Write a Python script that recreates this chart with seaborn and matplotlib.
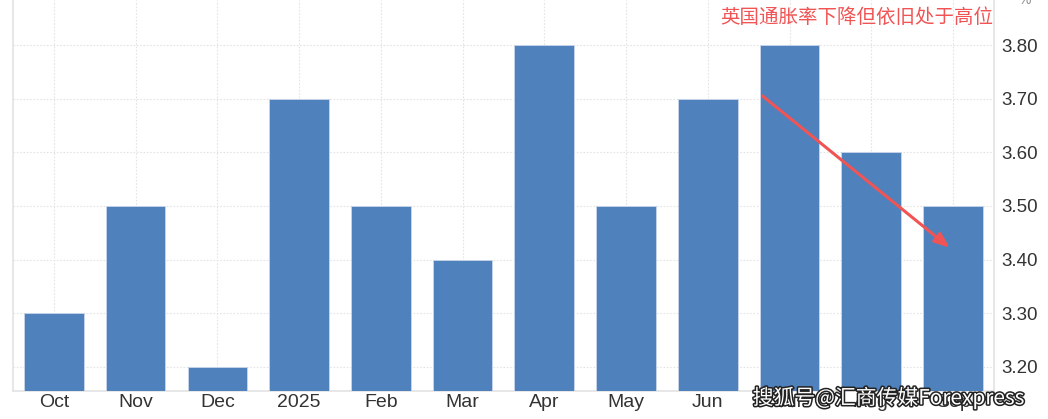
import pandas as pd
import matplotlib.pyplot as plt
import matplotlib.patheffects as pe
import seaborn as sns

# data (UK CPI, %)
months = ['Oct', 'Nov', 'Dec', '2025', 'Feb', 'Mar', 'Apr', 'May', 'Jun', 'Jul', 'Aug', 'Sep']
cpi = [3.3, 3.5, 3.2, 3.7, 3.5, 3.4, 3.8, 3.5, 3.7, 3.8, 3.6, 3.5]
yticks = [3.2, 3.3, 3.4, 3.5, 3.6, 3.7, 3.8]

df = pd.DataFrame({'month': months, 'cpi': cpi})

sns.set_style('white')
plt.rcParams['font.family'] = ['Liberation Sans', 'Noto Sans CJK SC', 'DejaVu Sans']

fig = plt.figure(figsize=(10.48, 4.19), dpi=100)
ax = fig.add_axes([0.0124, 0.0668, 0.936, 0.9332])

sns.barplot(data=df, x='month', y='cpi', order=months, color='#4f81bd',
            saturation=1, width=0.73, edgecolor='#c9d6ea', linewidth=0.6,
            ax=ax, zorder=3)

ax.set_ylim(3.155, 3.884)
ax.set_xlim(-0.5, len(months) - 0.5)
ax.set_yticks(yticks)
ax.set_yticklabels([f'{v:.2f}' for v in yticks])
ax.yaxis.tick_right()
ax.set_xlabel('')
ax.set_ylabel('')
ax.tick_params(axis='both', length=0, colors='#333333')
ax.tick_params(axis='x', labelsize=14, pad=2)
ax.tick_params(axis='y', labelsize=13.5, pad=5)

ax.grid(True, color='#e4e4e4', linestyle=(0, (1.5, 1.5)), linewidth=0.8, zorder=0)
ax.set_axisbelow(True)
for side in ['left', 'right', 'bottom']:
    ax.spines[side].set_color('#e3e3e3')
    ax.spines[side].set_linewidth(1.2)
ax.spines['top'].set_visible(False)

# percent sign above the axis labels
fig.text(0.978, 1.0, '%', ha='center', va='center', fontsize=10, color='#888888')

# annotation and arrow
ax.text(0.999, 0.955, '英国通胀率下降但依旧处于高位', transform=ax.transAxes,
        ha='right', va='center', fontsize=14, color='#f05454',
        family=['Noto Sans CJK SC', 'DejaVu Sans'], zorder=5)
ax.annotate('', xy=(10.96, 3.422), xytext=(8.67, 3.705),
            arrowprops=dict(arrowstyle='-|>,head_length=0.9,head_width=0.35',
                            color='#f05454', lw=2.2, shrinkA=0, shrinkB=0),
            zorder=6)

# watermark
fig.text(0.978, 0.05, '搜狐号@汇商传媒Forexpress', ha='right', va='center',
         fontsize=15, color='white', family=['Noto Sans CJK SC', 'DejaVu Sans'],
         path_effects=[pe.withStroke(linewidth=2.2, foreground='#222222')], zorder=10)

plt.savefig('out.png', dpi=100)
